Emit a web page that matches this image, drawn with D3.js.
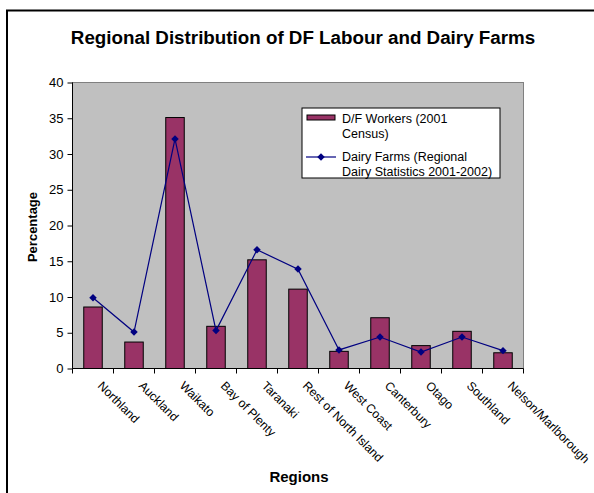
<!DOCTYPE html>
<html><head><meta charset="utf-8">
<script src="https://cdn.jsdelivr.net/npm/d3@7"></script>
<style>body{margin:0;background:#fff}svg{display:block}text{font-family:Arial,"Liberation Sans",sans-serif}</style>
</head><body><svg id="c" width="594" height="493"></svg>
<script>
const regions = ["Northland","Auckland","Waikato","Bay of Plenty","Taranaki","Rest of North Island","West Coast","Canterbury","Otago","Southland","Nelson/Marlborough"];
const workers = [8.6, 3.7, 35.1, 5.9, 15.2, 11.1, 2.4, 7.1, 3.2, 5.2, 2.2];
const farms = [9.9, 5.1, 32.1, 5.3, 16.6, 13.9, 2.6, 4.4, 2.3, 4.4, 2.5];
const yTicks = [0,5,10,15,20,25,30,35,40];
const title = "Regional Distribution of DF Labour and Dairy Farms";
const legendWorkers = ["D/F Workers (2001","Census)"];
const legendFarms = ["Dairy Farms (Regional","Dairy Statistics 2001-2002)"];

const svg = d3.select("#c");
// outer frame
svg.append("path").attr("d","M7,500 V10.5 H600").attr("fill","none").attr("stroke","#000").attr("stroke-width",2);

const L=72.5, R=523.5, T=82.5, B=368.5;
const x = d3.scaleBand().domain(regions).range([L,R]);
const y = d3.scaleLinear().domain([0,40]).range([B,T]);

svg.append("rect").attr("x",L).attr("y",T).attr("width",R-L).attr("height",B-T).attr("fill","#c0c0c0").attr("stroke","#808080").attr("stroke-width",1);

svg.append("text").attr("x",303).attr("y",44).attr("text-anchor","middle").attr("font-size",18.8).attr("font-weight","bold").text(title);

// bars
const bw = 18.5;
svg.append("g").selectAll("rect").data(regions).join("rect")
  .attr("x",d=>x(d)+x.bandwidth()/2-bw/2)
  .attr("y",(d,i)=>y(workers[i]))
  .attr("width",bw)
  .attr("height",(d,i)=>B-y(workers[i]))
  .attr("fill","#993366").attr("stroke","#000").attr("stroke-width",1);

// y axis
const ya = svg.append("g").attr("transform",`translate(${L},0)`)
  .call(d3.axisLeft(y).tickValues(yTicks).tickSize(5).tickPadding(4));
ya.select(".domain").attr("stroke","#000").attr("d",`M0,${T}V${B}`);
ya.selectAll("text").attr("font-size",13).attr("fill","#000").attr("font-family","Arial, 'Liberation Sans', sans-serif");

// x axis
const xa = svg.append("g").attr("transform",`translate(0,${B})`);
xa.append("line").attr("x1",L).attr("x2",R).attr("stroke","#000");
const bounds = regions.map(d=>x(d)).concat([R]);
xa.selectAll("line.t").data(bounds).join("line").attr("class","t")
  .attr("x1",d=>d).attr("x2",d=>d).attr("y1",0).attr("y2",5).attr("stroke","#000");
xa.selectAll("text").data(regions).join("text")
  .attr("transform",d=>`translate(${x(d)+x.bandwidth()/2+4},${18}) rotate(45)`)
  .attr("font-size",12.2).text(d=>d);

// line
const line = d3.line().x((d,i)=>x(regions[i])+x.bandwidth()/2).y(d=>y(d));
svg.append("path").datum(farms).attr("d",line).attr("fill","none").attr("stroke","#000080").attr("stroke-width",1.2);
svg.append("g").selectAll("path").data(farms).join("path")
  .attr("d",d3.symbol().type(d3.symbolSquare).size(28))
  .attr("transform",(d,i)=>`translate(${x(regions[i])+x.bandwidth()/2},${y(d)}) rotate(45)`)
  .attr("fill","#000080");

// axis titles
svg.append("text").attr("transform","translate(37,227) rotate(-90)").attr("text-anchor","middle").attr("font-size",13).attr("font-weight","bold").text("Percentage");
svg.append("text").attr("x",299).attr("y",482).attr("text-anchor","middle").attr("font-size",15).attr("font-weight","bold").text("Regions");

// legend
const lg = svg.append("g");
lg.append("rect").attr("x",302).attr("y",108).attr("width",198).attr("height",70).attr("fill","#fff").attr("stroke","#000").attr("stroke-width",1);
lg.append("rect").attr("x",307).attr("y",115).attr("width",28).attr("height",5).attr("fill","#993366").attr("stroke","#000");
lg.append("text").attr("x",342).attr("y",123).attr("font-size",12.5).selectAll("tspan").data(legendWorkers).join("tspan").attr("x",342).attr("dy",(d,i)=>i?15:0).text(d=>d);
lg.append("line").attr("x1",306).attr("x2",336).attr("y1",157).attr("y2",157).attr("stroke","#000080").attr("stroke-width",1.2);
lg.append("path").attr("d",d3.symbol().type(d3.symbolSquare).size(28)).attr("transform","translate(321,157) rotate(45)").attr("fill","#000080");
lg.append("text").attr("x",342).attr("y",161).attr("font-size",12.5).selectAll("tspan").data(legendFarms).join("tspan").attr("x",342).attr("dy",(d,i)=>i?15:0).text(d=>d);
</script></body></html>
